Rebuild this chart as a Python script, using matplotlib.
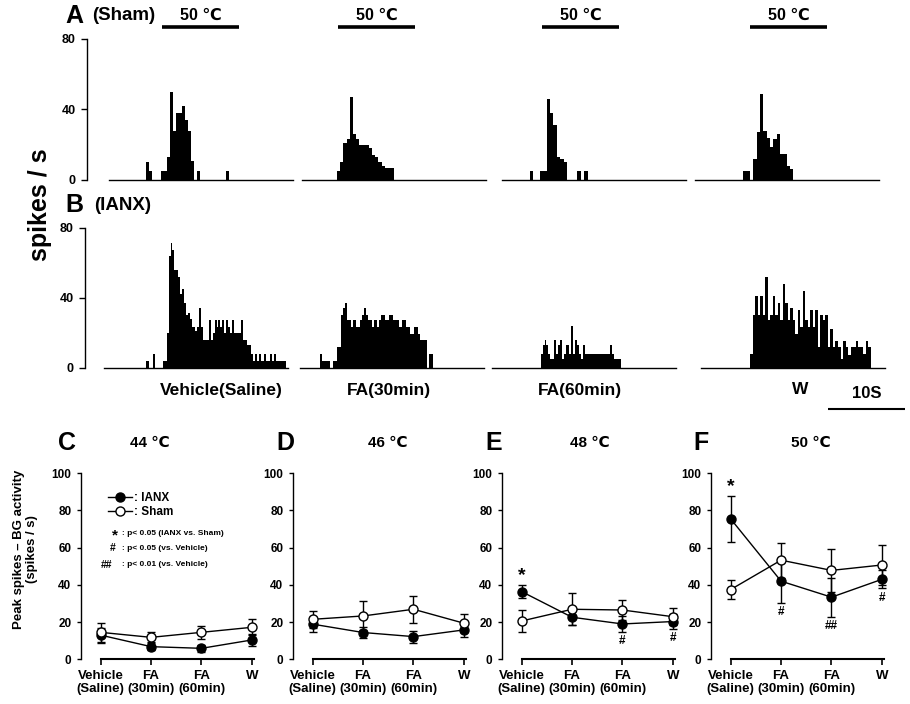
import numpy as np
import matplotlib
matplotlib.use('Agg')
import matplotlib.pyplot as plt

plt.rcParams['font.family'] = ['Liberation Sans', 'DejaVu Sans']
plt.rcParams['font.weight'] = 'bold'

# ---------------- histogram data (spikes / s per bin) ----------------
# Sham row (A): bin start (s), bin width (s), counts
sham_vehicle = [10, 5, 0, 0, 0, 5, 5, 13, 50, 28, 38, 38, 42, 34, 28, 11, 0, 5,
                0, 0, 0, 0, 0, 0, 0, 0, 0, 5]
sham_fa30 = [5, 10, 21, 23, 47, 26, 23, 20, 20, 20, 18, 14, 13, 10, 8, 7, 7, 7]
sham_fa60 = [5, 0, 0, 5, 5, 46, 38, 31, 13, 12, 10, 0, 0, 0, 5, 0, 5]
sham_w = [5, 5, 0, 12, 27, 49, 28, 24, 19, 23, 26, 15, 15, 8, 6]
sham_t0 = [4.79, 4.56, 3.6, 6.3]
sham_bw = [0.39, 0.415, 0.445, 0.435]
stim_start = [6.91, 4.7, 5.2, 7.17]
stim_len = 10.1

# IANX row (B)
ianx_vehicle = [4, 4, 0, 0, 8, 0, 0, 0, 0, 4, 4, 20, 64, 71, 67, 56, 56, 52, 42, 45,
                37, 30, 31, 28, 23, 23, 21, 23, 34, 23, 16, 16, 16, 27, 16, 20, 27, 23,
                27, 23, 27, 20, 27, 23, 20, 27, 20, 20, 20, 20, 27, 16, 16, 13, 13, 8,
                4, 8, 4, 8, 4, 4, 8, 4, 4, 8, 4, 8, 4, 4, 4, 4, 4]
ianx_fa30 = [8, 4, 4, 4, 4, 0, 0, 4, 4, 12, 12, 30, 34, 37, 27, 27, 23, 27, 27, 23,
             23, 27, 30, 34, 30, 27, 27, 23, 27, 27, 23, 27, 30, 30, 27, 27, 30, 30,
             27, 27, 27, 23, 23, 27, 27, 23, 23, 19, 19, 23, 23, 19, 16, 16, 16, 16,
             0, 8, 8]
ianx_fa60 = [8, 13, 16, 13, 8, 5, 5, 16, 8, 13, 16, 5, 8, 13, 13, 8, 24, 8, 16, 13,
             8, 5, 13, 8, 8, 8, 8, 8, 8, 8, 8, 8, 8, 8, 8, 8, 13, 8, 5, 5, 5, 5]
ianx_w = [8, 30, 41, 30, 41, 30, 52, 27, 30, 41, 30, 37, 27, 48, 37, 27, 34, 27, 19,
          33, 23, 44, 27, 23, 33, 23, 33, 12, 30, 27, 30, 12, 22, 12, 15, 12, 5, 15,
          12, 7, 12, 12, 15, 12, 12, 8, 15, 12]
ianx_t0 = [5.43, 2.6, 6.35, 6.39]
ianx_bw = [0.25, 0.25, 0.25, 0.328]

hist_names = ['Vehicle(Saline)', 'FA(30min)', 'FA(60min)', 'W']

# ---------------- summary data (peak spikes - BG activity) ----------------
categories = ['Vehicle\n(Saline)', 'FA\n(30min)', 'FA\n(60min)', 'W']
temps = ['44 \u2103', '46 \u2103', '48 \u2103', '50 \u2103']
letters = ['C', 'D', 'E', 'F']

ianx_mean = [[13.0, 6.8, 5.9, 10.4],
             [18.9, 14.4, 12.2, 15.8],
             [36.4, 22.6, 19.0, 20.3],
             [75.5, 42.0, 33.4, 43.0]]
ianx_err = [[4.0, 2.0, 2.0, 3.4],
            [4.0, 3.2, 3.2, 3.8],
            [3.6, 4.0, 4.2, 3.9],
            [12.5, 11.5, 10.5, 4.8]]
sham_mean = [[14.5, 11.8, 14.5, 17.2],
             [21.5, 23.3, 26.9, 19.4],
             [20.6, 26.9, 26.5, 22.9],
             [37.5, 53.3, 47.8, 50.7]]
sham_err = [[5.0, 2.7, 3.5, 4.3],
            [4.5, 7.8, 7.2, 4.8],
            [6.0, 8.6, 5.4, 4.5],
            [5.2, 9.4, 11.7, 11.0]]
# (panel, category, symbol, above/below)
marks = [(2, 0, '*', 'above'), (2, 2, '#', 'below'), (2, 3, '#', 'below'),
         (3, 0, '*', 'above'), (3, 1, '#', 'below'), (3, 2, '##', 'below'),
         (3, 3, '#', 'below')]

W, H = 910, 704
fig = plt.figure(figsize=(W / 100, H / 100), dpi=100)


def P(x, y):
    return x / W, 1 - y / H


def hist_axes(x0, ytop, ybot, first, outward):
    l, b = P(x0, ybot)
    ax = fig.add_axes([l, b, 184 / W, (ybot - ytop) / H])
    ax.set_xlim(0, 24)
    ax.set_ylim(0, 80)
    for s in ['top', 'right']:
        ax.spines[s].set_visible(False)
    ax.spines['bottom'].set_linewidth(1.0)
    ax.set_xticks([])
    if first:
        ax.spines['left'].set_position(('outward', outward))
        ax.spines['left'].set_linewidth(1.0)
        ax.set_yticks([0, 40, 80])
        ax.tick_params(axis='y', length=4, width=1, pad=4, labelsize=9)
    else:
        ax.spines['left'].set_visible(False)
        ax.set_yticks([])
    ax.patch.set_alpha(0)
    return ax


# ---------------- row A (Sham) ----------------
a_cols = [109, 302, 502, 695]
sham_sets = [sham_vehicle, sham_fa30, sham_fa60, sham_w]
for i, counts in enumerate(sham_sets):
    ax = hist_axes(a_cols[i], 39, 180, i == 0, 16)
    t = sham_t0[i] + np.arange(len(counts)) * sham_bw[i]
    ax.bar(t, counts, width=sham_bw[i], align='edge', color='black', linewidth=0)
    s0 = stim_start[i]
    ax.plot([s0, s0 + stim_len], [86.8, 86.8], color='black', lw=2.6,
            clip_on=False, solid_capstyle='butt')
    ax.text(s0 + stim_len / 2, 93.6, '50 \u2103', ha='center', va='center',
            fontsize=11.5, clip_on=False)

# ---------------- row B (IANX) ----------------
b_cols = [104, 300, 492, 701]
ianx_sets = [ianx_vehicle, ianx_fa30, ianx_fa60, ianx_w]
for i, counts in enumerate(ianx_sets):
    ax = hist_axes(b_cols[i], 227.7, 367.5, i == 0, 14)
    t = ianx_t0[i] + np.arange(len(counts)) * ianx_bw[i]
    ax.bar(t, counts, width=ianx_bw[i], align='edge', color='black', linewidth=0)
    if i == 3:
        ax.plot([16.56, 26.56], [-23.7, -23.7], color='black', lw=1.5,
                clip_on=False, solid_capstyle='butt')

for name, (x, y) in zip(hist_names, [(221, 390), (389, 390), (580, 390), (800, 389)]):
    fig.text(*P(x, y), name, ha='center', va='center', fontsize=12.5)
fig.text(*P(867, 394), '10S', ha='center', va='center', fontsize=12)

fig.text(*P(74, 16), 'A', ha='center', va='center', fontsize=18)
fig.text(*P(124, 15), '(Sham)', ha='center', va='center', fontsize=13.5)
fig.text(*P(74, 205), 'B', ha='center', va='center', fontsize=18)
fig.text(*P(123, 205), '(IANX)', ha='center', va='center', fontsize=13.5)
fig.text(*P(40, 205), 'spikes / s', ha='center', va='center', fontsize=18,
         rotation=90)

# ---------------- rows C-F ----------------
bot_left = [81, 293, 502, 711]
title_x = [150, 388, 590, 811]
letter_x = [67, 285, 494, 701]
x = np.arange(len(categories))
for p in range(4):
    l, b = P(bot_left[p], 659.3)
    ax = fig.add_axes([l, b, 181 / W, 186 / H])
    ax.set_xlim(-0.39, 3.2)
    ax.set_ylim(0, 100)
    ax.patch.set_alpha(0)
    for s in ['top', 'right']:
        ax.spines[s].set_visible(False)
    ax.spines['left'].set_linewidth(1.0)
    ax.spines['bottom'].set_linewidth(1.5)
    ax.spines['bottom'].set_bounds(0, 3.04)
    ax.set_yticks(np.arange(0, 101, 20))
    ax.set_xticks(x)
    ax.set_xticklabels(categories, fontsize=9.5, linespacing=1.15)
    ax.tick_params(axis='y', length=3, width=1, pad=4, labelsize=8.5)
    ax.tick_params(axis='x', length=4.5, width=1.2, pad=3)

    h_ianx = ax.errorbar(x, ianx_mean[p], yerr=ianx_err[p], color='black', lw=1,
                         marker='o', ms=6.5, mfc='black', mec='black', mew=1,
                         capsize=3, elinewidth=1, capthick=1, zorder=3,
                         clip_on=False)
    h_sham = ax.errorbar(x, sham_mean[p], yerr=sham_err[p], color='black', lw=1,
                         marker='o', ms=6.5, mfc='white', mec='black', mew=1,
                         capsize=3, elinewidth=1, capthick=1, zorder=4,
                         clip_on=False)

    fig.text(*P(letter_x[p], 443), letters[p], ha='center', va='center', fontsize=18)
    fig.text(*P(title_x[p], 443), temps[p], ha='center', va='center', fontsize=11)

    for (pp, ci, sym, pos) in marks:
        if pp != p:
            continue
        if pos == 'above':
            yy = ianx_mean[p][ci] + ianx_err[p][ci] + 5
            ax.text(ci, yy, sym, ha='center', va='center', fontsize=14)
        else:
            lo = min(ianx_mean[p][ci] - ianx_err[p][ci],
                     sham_mean[p][ci] - sham_err[p][ci])
            ax.text(ci, lo - 5, sym, ha='center', va='center', fontsize=8.5)

    if p == 0:
        ax.legend([h_ianx.lines[0], h_sham.lines[0]], [': IANX', ': Sham'],
                  loc='upper left', bbox_to_anchor=(0.149, 0.9), frameon=False,
                  borderpad=0, borderaxespad=0, handlelength=2.0,
                  handletextpad=0.2, labelspacing=0.15, numpoints=1,
                  prop={'size': 8.5, 'weight': 'bold'})
        key = [('*', ': p< 0.05 (IANX vs. Sham)', 0.188, 0.665, 11),
               ('#', ': p< 0.05 (vs. Vehicle)', 0.177, 0.596, 7.5),
               ('##', ': p< 0.01 (vs. Vehicle)', 0.144, 0.507, 7.5)]
        for sym, txt, sx, sy, fs in key:
            ax.text(sx, sy, sym, transform=ax.transAxes, ha='center',
                    va='center', fontsize=fs)
            ax.text(0.2265, sy if sym != '*' else 0.675, txt,
                    transform=ax.transAxes, ha='left', va='center', fontsize=6)

fig.text(*P(25.5, 549), 'Peak spikes \u2013 BG activity\n(spikes / s)',
         ha='center', va='center', rotation=90, fontsize=9.5, linespacing=1.0,
         multialignment='center')

fig.savefig('out.png', dpi=100)
